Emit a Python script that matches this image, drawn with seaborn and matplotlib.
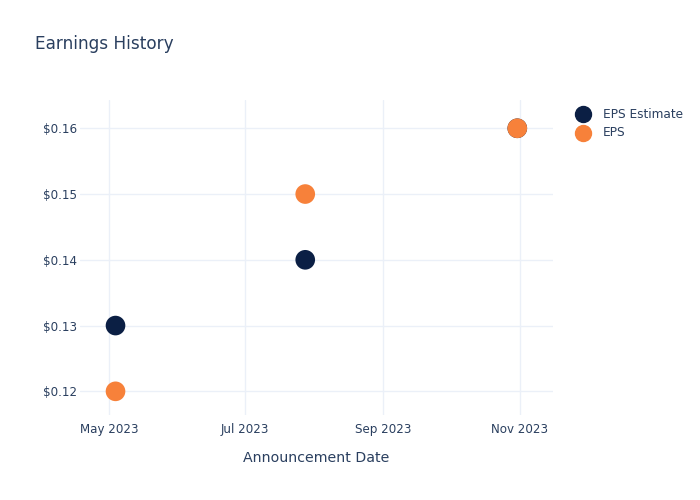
import pandas as pd
import matplotlib.pyplot as plt
import matplotlib.dates as mdates
import seaborn as sns
from matplotlib.ticker import FuncFormatter

# Data
dates = ["2023-05-04", "2023-07-28", "2023-10-31"]
eps_estimate = [0.13, 0.14, 0.16]
eps_actual = [0.12, 0.15, 0.16]
series_names = ["EPS Estimate", "EPS"]
colors = ["#0b1f44", "#f7813a"]

TEXT = "#2a3f5f"
GRID = "#ebf0f8"

df = pd.DataFrame({
    "date": pd.to_datetime(dates * 2),
    "value": eps_estimate + eps_actual,
    "series": [series_names[0]] * 3 + [series_names[1]] * 3,
})

sns.set_theme(style="white")
plt.rcParams["font.family"] = ["DejaVu Sans"]

fig = plt.figure(figsize=(7, 5), dpi=100)
ax = fig.add_axes([0.114, 0.17, 0.676, 0.63])

sns.scatterplot(data=df, x="date", y="value", hue="series",
                palette=colors, hue_order=series_names, s=200,
                linewidth=0, ax=ax, legend=False, zorder=3)

ax.set_xlim(pd.Timestamp("2023-04-18"), pd.Timestamp("2023-11-16"))
ax.set_ylim(0.1164, 0.1643)
ax.set_yticks([0.12, 0.13, 0.14, 0.15, 0.16])
ax.yaxis.set_major_formatter(FuncFormatter(lambda v, _: f"${v:.2f}"))
ax.xaxis.set_major_locator(mdates.MonthLocator(bymonth=[1, 3, 5, 7, 9, 11]))
ax.xaxis.set_major_formatter(mdates.DateFormatter("%b %Y"))

ax.grid(True, color=GRID, linewidth=1)
ax.set_axisbelow(True)
for sp in ax.spines.values():
    sp.set_visible(False)
ax.tick_params(axis="both", length=0, colors=TEXT, labelsize=8.6)
ax.tick_params(axis="y", pad=2)
ax.tick_params(axis="x", pad=6)

ax.set_xlabel("Announcement Date", color=TEXT, fontsize=10.2, labelpad=10.5)
ax.set_ylabel("")
fig.text(0.05, 0.912, "Earnings History", color=TEXT, fontsize=12.2,
         ha="left", va="center")

# Legend
for i, (name, c) in enumerate(zip(series_names, colors)):
    y = 1 - (114 + 19 * i) / 500
    fig.lines.append(plt.Line2D([583 / 700], [y], marker="o", markersize=11.5,
                                color=c, linestyle="none",
                                transform=fig.transFigure, figure=fig))
    fig.text(603 / 700, y, name, color=TEXT, fontsize=8.7, va="center")

fig.savefig("out.png", dpi=100)
